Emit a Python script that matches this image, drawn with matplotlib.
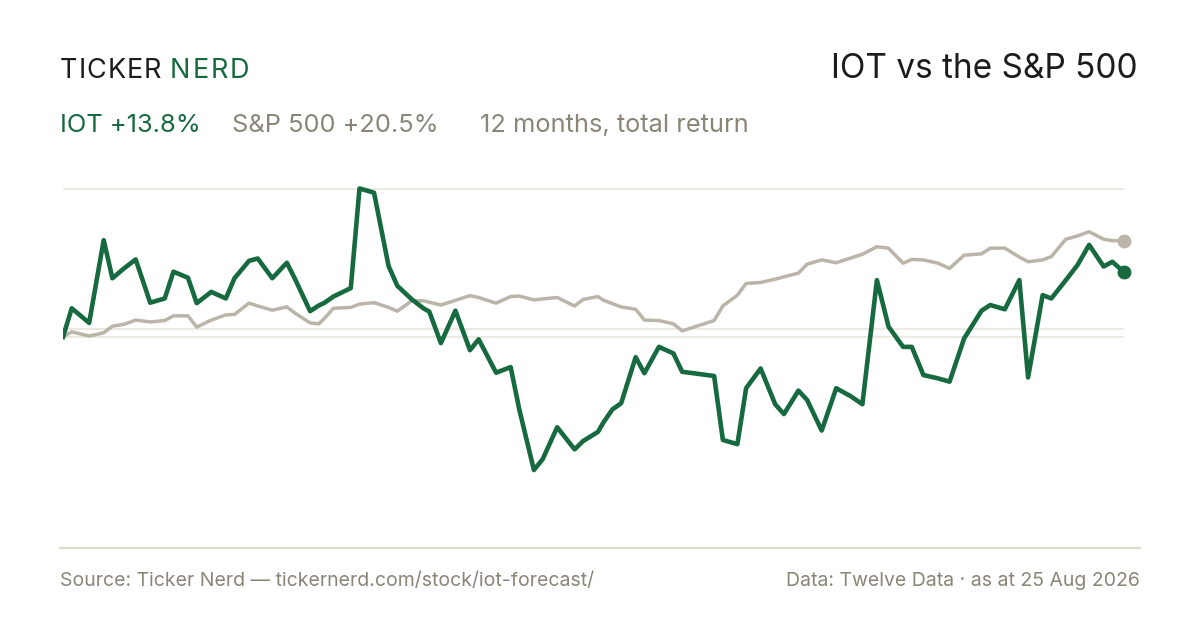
import matplotlib
matplotlib.use("Agg")
import matplotlib.pyplot as plt

plt.rcParams['font.family'] = ['Inter', 'DejaVu Sans']

GREEN = '#17693f'
GREY_LINE = '#bbb4a8'
GREY_TEXT = '#8a8577'
GRID = '#e9e5de'

# days since start of the 12 month window
days = [0, 3, 9, 14, 17, 21, 25, 30, 35, 38,
        43, 46, 51, 56, 59, 64, 67, 72, 77, 80,
        85, 88, 90, 93, 99, 102, 107, 112, 115, 120,
        124, 126, 130, 135, 140, 143, 149, 154, 157, 162,
        165, 170, 176, 179, 184, 186, 189, 192, 197, 200,
        205, 210, 213, 218, 224, 227, 232, 235, 240, 245,
        248, 253, 256, 261, 266, 271, 275, 280, 284, 289,
        292, 296, 301, 305, 310, 316, 319, 324, 329, 332,
        337, 340, 345, 349, 353, 358, 361, 365]

# cumulative total return, %
iot = [0.0, 6.1, 3.0, 20.6, 12.5, 14.6, 16.5, 7.3, 8.2, 13.9,
       12.6, 7.2, 9.6, 8.2, 12.5, 16.2, 16.7, 12.5, 15.8, 12.1,
       5.5, 6.7, 7.3, 8.6, 10.4, 31.6, 30.7, 15.1, 10.9, 8.0,
       6.1, 5.4, -1.3, 5.6, -2.8, -0.5, -7.6, -6.4, -15.5, -28.3,
       -26.0, -19.2, -23.9, -22.1, -20.2, -18.1, -15.4, -14.1, -4.3, -7.7,
       -2.1, -3.5, -7.4, -7.8, -8.3, -21.9, -22.8, -10.9, -6.7, -14.3,
       -16.4, -11.4, -13.4, -19.9, -10.9, -12.6, -14.3, 12.1, 2.2, -2.1,
       -2.1, -8.1, -8.8, -9.5, -0.3, 5.6, 6.8, 5.9, 12.1, -8.6,
       8.9, 8.2, 12.1, 15.3, 19.6, 15.0, 16.0, 13.8]

spx = [0.0, 1.1, 0.2, 0.9, 2.3, 2.7, 3.6, 3.2, 3.5, 4.5,
       4.5, 2.1, 3.6, 4.7, 4.8, 7.2, 6.6, 5.7, 6.4, 5.0,
       3.0, 2.8, 4.0, 6.1, 6.3, 7.0, 7.3, 6.3, 5.5, 7.7,
       7.7, 7.4, 6.8, 7.8, 8.8, 8.4, 7.2, 8.6, 8.7, 7.9,
       8.1, 8.4, 6.6, 8.0, 8.6, 7.8, 7.1, 6.4, 5.9, 3.6,
       3.5, 2.8, 1.3, 2.3, 3.5, 6.6, 8.9, 11.4, 11.6, 12.3,
       12.8, 13.6, 15.5, 16.4, 15.8, 16.8, 17.6, 19.2, 18.9, 15.7,
       16.5, 16.4, 15.7, 14.6, 17.4, 17.7, 18.9, 18.9, 17.0, 16.0,
       16.4, 17.1, 20.8, 21.5, 22.4, 20.8, 20.5, 20.5]

grid_levels = [31.5, 1.7]
iot_label = "IOT +13.8%"
spx_label = "S&P 500 +20.5%"
period_label = "12 months, total return"

fig = plt.figure(figsize=(12, 6.3), dpi=100)
fig.patch.set_facecolor('white')

# plot area: x 63..1124 px, y 172..502 px
ax = fig.add_axes([63 / 1200, (630 - 502) / 630, (1124 - 63) / 1200, 330 / 630])
ax.set_xlim(0, 365)
ax.set_ylim(-35.1, 35.1)
ax.axis('off')

for g in grid_levels:
    ax.axhline(g, color=GRID, lw=1.2, zorder=1)
ax.axhline(0, color=GRID, lw=1.2, zorder=1)

ax.plot(days, spx, color=GREY_LINE, lw=2.5, solid_joinstyle='round', zorder=2)
ax.plot(days, iot, color=GREEN, lw=3.3, solid_joinstyle='round', zorder=3)
ax.plot(days[-1], spx[-1], 'o', color=GREY_LINE, ms=9, zorder=4, clip_on=False)
ax.plot(days[-1], iot[-1], 'o', color=GREEN, ms=9, zorder=5, clip_on=False)


def spaced(x_px, y_px, s, size, color, track):
    # draw a word letter by letter with a little extra tracking
    r = fig.canvas.get_renderer()
    x = x_px
    for ch in s:
        t = fig.text(x / 1200, 1 - y_px / 630, ch, fontsize=size, color=color,
                     va='center', ha='left')
        x += t.get_window_extent(r).width + track
    return x


# header
spaced(60, 71, "TICKER", 19.5, '#1c1c1c', 1.0)
spaced(170, 71, "NERD", 19.5, GREEN, 2.0)
fig.text(1138 / 1200, 1 - 69 / 630, "IOT vs the S&P 500", fontsize=24,
         color='#1c1c1c', va='center', ha='right')

fig.text(60 / 1200, 1 - 126 / 630, iot_label, fontsize=18.3, color=GREEN,
         va='center', ha='left')
fig.text(232 / 1200, 1 - 126 / 630, spx_label, fontsize=18.3, color=GREY_TEXT,
         va='center', ha='left')
fig.text(480 / 1200, 1 - 126 / 630, period_label, fontsize=18.3, color=GREY_TEXT,
         va='center', ha='left')

# footer
fig.add_artist(plt.Line2D([60 / 1200, 1140 / 1200], [1 - 548 / 630, 1 - 548 / 630],
                          color='#dedacf', lw=1.6))
fig.text(60 / 1200, 1 - 581 / 630, "Source: Ticker Nerd — tickernerd.com/stock/iot-forecast/",
         fontsize=14, color=GREY_TEXT, va='center', ha='left')
fig.text(1140 / 1200, 1 - 581 / 630, "Data: Twelve Data · as at 25 Aug 2026",
         fontsize=14, color=GREY_TEXT, va='center', ha='right')

plt.savefig("out.png", dpi=100, facecolor='white')
